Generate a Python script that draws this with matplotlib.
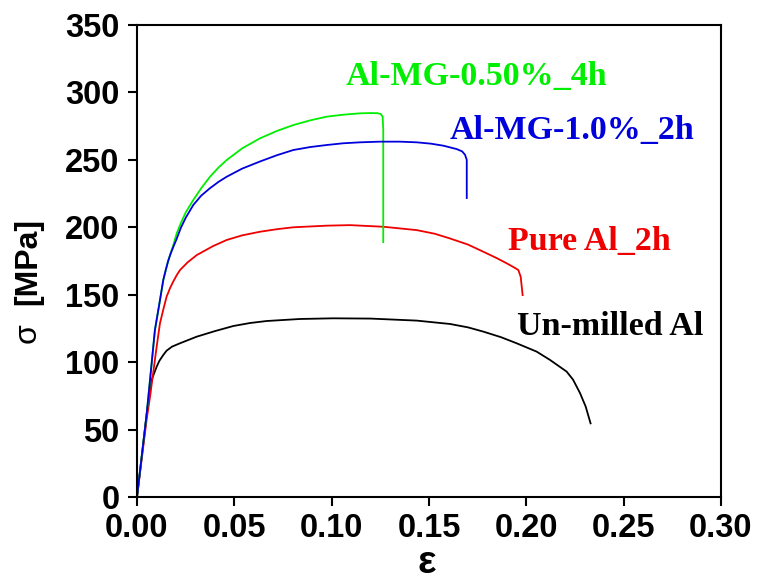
import matplotlib
matplotlib.use("Agg")
import matplotlib.pyplot as plt

# Un-milled Al (black)
eps_unmilled = [0, 0.0025, 0.005, 0.0075, 0.0090, 0.0101, 0.0115, 0.0135, 0.0152, 0.0180,
                0.0221, 0.0307, 0.0400, 0.0495, 0.0580, 0.0666, 0.0837, 0.1008, 0.1200,
                0.1437, 0.1608, 0.1700, 0.1780, 0.1870, 0.1950, 0.2053, 0.2122, 0.2207,
                0.2240, 0.2276, 0.2305, 0.2330]
sig_unmilled = [0, 31, 62, 86.8, 92.5, 96.6, 101, 105.3, 108.5, 111.5,
                114, 118.9, 123, 126.8, 129, 130.5, 132, 132.5, 132.3,
                130.8, 128.3, 125.8, 122.6, 118.5, 114, 107.8, 101.6, 93,
                87, 77, 67, 54.6]

# Pure Al_2h (red)
eps_pure = [0, 0.005, 0.0067, 0.0101, 0.0118, 0.0135, 0.0152, 0.0170, 0.0187, 0.0204,
            0.0221, 0.0260, 0.0307, 0.0390, 0.0461, 0.0540, 0.0632, 0.0720, 0.0803,
            0.0974, 0.1094, 0.1265, 0.1437, 0.1530, 0.1608, 0.1700, 0.1780, 0.1850,
            0.1900, 0.1940, 0.1959, 0.1971, 0.1981]
sig_pure = [0, 58, 74.4, 111.5, 128.8, 139, 148.5, 155, 160, 164.5,
            168.3, 174, 179.4, 186, 190.6, 194, 196.7, 198.6, 200,
            201.2, 201.6, 200.4, 197.9, 195.2, 191.7, 187.2, 181.8, 177,
            173.2, 170, 168.3, 163.3, 149.7]

# Al-MG-1.0%_2h (blue)
eps_mg10 = [0, 0.005, 0.0092, 0.0118, 0.0135, 0.0148, 0.0160, 0.0173, 0.0187, 0.0204,
            0.0225, 0.0250, 0.0289, 0.0330, 0.0375, 0.0420, 0.0461, 0.0540, 0.0632,
            0.0720, 0.0803, 0.0890, 0.0974, 0.1060, 0.1146, 0.1248, 0.1350, 0.1437,
            0.1510, 0.1574, 0.1642, 0.1670, 0.1685, 0.1694, 0.1694]
sig_mg10 = [0, 62, 123.8, 146, 160.9, 168.5, 175, 180.5, 185.6, 191.5,
            199.5, 207, 216.5, 223.5, 229, 233.8, 237.5, 243.5, 248.8,
            253.5, 257.3, 259.5, 261, 262.3, 263, 263.5, 263.5, 263,
            262, 260.5, 258, 256.3, 253.8, 250, 221.7]

# Al-MG-0.50%_4h (green)
eps_mg05 = [0, 0.005, 0.0092, 0.0118, 0.0135, 0.0148, 0.0160, 0.0173, 0.0187, 0.0204,
            0.0225, 0.0250, 0.0289, 0.0330, 0.0375, 0.0420, 0.0461, 0.0540, 0.0632,
            0.0720, 0.0803, 0.0890, 0.0974, 0.1060, 0.1146, 0.1200, 0.1235, 0.1252,
            0.1262, 0.1265, 0.1265]
sig_mg05 = [0, 62, 123.8, 146, 160.9, 168.5, 175, 181, 187, 195.5,
            203, 211, 220.2, 229, 237.5, 244.5, 249.9, 258.5, 266,
            271.5, 275.8, 279.3, 282, 283.5, 284.5, 284.7, 284.6, 284,
            282, 272, 189]

labels = ["Al-MG-0.50%_4h", "Al-MG-1.0%_2h", "Pure Al_2h", "Un-milled Al"]
xticks = [0.00, 0.05, 0.10, 0.15, 0.20, 0.25, 0.30]
yticks = [0, 50, 100, 150, 200, 250, 300, 350]

C_GREEN = "#00ee00"
C_BLUE = "#0000dd"
C_RED = "#ee0000"

fig = plt.figure(figsize=(7.57, 5.82), dpi=100)
ax = fig.add_axes([137/757, 1-497/582, 584/757, 472/582])

ax.plot(eps_unmilled, sig_unmilled, color="black", lw=1.3)
ax.plot(eps_pure, sig_pure, color=C_RED, lw=1.3)
ax.plot(eps_mg05, sig_mg05, color=C_GREEN, lw=1.3)
ax.plot(eps_mg10, sig_mg10, color=C_BLUE, lw=1.3)

ax.set_xlim(0, 0.30)
ax.set_ylim(0, 350)
ax.set_xticks(xticks)
ax.set_xticklabels([f"{v:.2f}" for v in xticks])
ax.set_yticks(yticks)
ax.set_yticklabels([str(v) for v in yticks])
ax.tick_params(direction="out", length=6.5, width=1.5, labelsize=23.5)
ax.tick_params(axis="x", pad=5)
ax.tick_params(axis="y", pad=6)
for lab in ax.get_xticklabels() + ax.get_yticklabels():
    lab.set_family("Liberation Sans")
    lab.set_fontweight("bold")
for s in ax.spines.values():
    s.set_linewidth(1.5)

tfont = dict(family="Liberation Serif", fontweight="bold", fontsize=24.5,
             transform=ax.transAxes, ha="left", va="baseline")
ax.text(0.358, 0.873, labels[0], color=C_GREEN, **tfont)
ax.text(0.536, 0.758, labels[1], color=C_BLUE, **tfont)
ax.text(0.635, 0.523, labels[2], color=C_RED, **tfont)
ax.text(0.650, 0.343, labels[3], color="black", **tfont)

fig.text(427/757, 1-563/582, "ε", family="Liberation Sans", fontweight="bold",
         fontsize=28, ha="center", va="center")
fig.text(28/757, 1-218/582, "[MPa]", family="Liberation Sans", fontweight="bold",
         fontsize=23, rotation=90, ha="center", va="top")
fig.text(28/757, 1-343/582, "σ", family="Liberation Sans",
         fontsize=23, rotation=90, ha="center", va="bottom")

fig.savefig("out.png", dpi=100)
